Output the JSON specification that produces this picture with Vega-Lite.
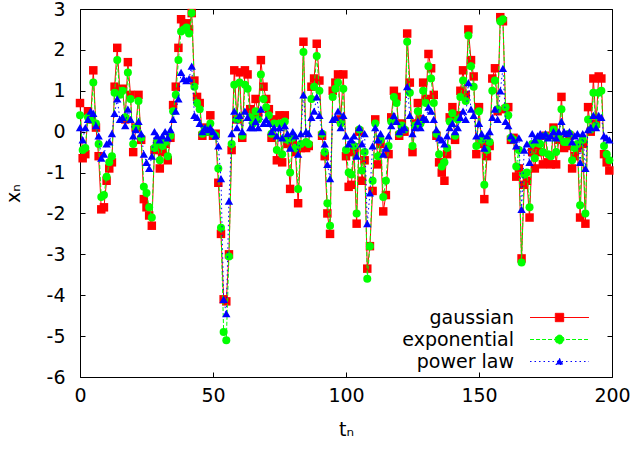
{
  "$schema": "https://vega.github.io/schema/vega-lite/v6.json",
  "width": 532,
  "height": 368,
  "autosize": {"type": "none"},
  "padding": {"left": 80, "top": 9, "right": 22, "bottom": 74},
  "background": "white",
  "config": {
    "view": {"stroke": "black", "strokeWidth": 1},
    "font": "DejaVu Sans",
    "axis": {"labelFont": "DejaVu Sans", "labelFontSize": 19, "labelColor": "black", "titleFont": "DejaVu Sans", "titleFontSize": 19, "titleFontWeight": "normal", "titleColor": "black", "tickColor": "black", "tickSize": -5, "domain": false, "grid": false, "labelFlush": false, "labelOverlap": false, "labelExpr": "datum.value + ''"}
  },
  "data": {"values": [
    {"t":0,"gaussian":0.7,"exponential":0.4,"power law":0.1},
    {"t":1,"gaussian":-0.65,"exponential":-0.45,"power law":-0.2},
    {"t":2,"gaussian":-0.55,"exponential":-0.4,"power law":0.1},
    {"t":3,"gaussian":0.5,"exponential":0.35,"power law":0.3},
    {"t":4,"gaussian":0.3,"exponential":0.3,"power law":0.5},
    {"t":5,"gaussian":1.5,"exponential":1.2,"power law":0.45},
    {"t":6,"gaussian":0.1,"exponential":0.2,"power law":0.15},
    {"t":7,"gaussian":-0.6,"exponential":-0.3,"power law":-0.1},
    {"t":8,"gaussian":-1.9,"exponential":-1.6,"power law":-0.65},
    {"t":9,"gaussian":-1.85,"exponential":-1.55,"power law":-0.55},
    {"t":10,"gaussian":-1.2,"exponential":-1.1,"power law":-0.3},
    {"t":11,"gaussian":-0.9,"exponential":-0.75,"power law":-0.25},
    {"t":12,"gaussian":-0.75,"exponential":-0.6,"power law":-0.05},
    {"t":13,"gaussian":1.1,"exponential":0.95,"power law":0.45},
    {"t":14,"gaussian":2.05,"exponential":1.75,"power law":0.8},
    {"t":15,"gaussian":1.0,"exponential":0.9,"power law":0.3},
    {"t":16,"gaussian":1.05,"exponential":1.0,"power law":0.35},
    {"t":17,"gaussian":0.3,"exponential":0.35,"power law":0.15},
    {"t":18,"gaussian":1.7,"exponential":1.45,"power law":0.55},
    {"t":19,"gaussian":0.9,"exponential":0.8,"power law":0.3},
    {"t":20,"gaussian":-0.5,"exponential":-0.3,"power law":-0.1},
    {"t":21,"gaussian":0.1,"exponential":0.1,"power law":0.05},
    {"t":22,"gaussian":0.9,"exponential":0.75,"power law":0.25},
    {"t":23,"gaussian":-0.2,"exponential":-0.15,"power law":-0.05},
    {"t":24,"gaussian":-1.65,"exponential":-1.35,"power law":-0.55},
    {"t":25,"gaussian":-1.85,"exponential":-1.5,"power law":-0.75},
    {"t":26,"gaussian":-2.05,"exponential":-1.85,"power law":-0.9},
    {"t":27,"gaussian":-2.3,"exponential":-2.1,"power law":-0.6},
    {"t":28,"gaussian":-0.45,"exponential":-0.4,"power law":0},
    {"t":29,"gaussian":-0.3,"exponential":-0.25,"power law":-0.1},
    {"t":30,"gaussian":-0.9,"exponential":-0.7,"power law":-0.2},
    {"t":31,"gaussian":-0.5,"exponential":-0.35,"power law":-0.1},
    {"t":32,"gaussian":-0.3,"exponential":-0.25,"power law":0},
    {"t":33,"gaussian":-0.7,"exponential":-0.6,"power law":-0.15},
    {"t":34,"gaussian":-0.15,"exponential":-0.1,"power law":0.05},
    {"t":35,"gaussian":0.65,"exponential":0.5,"power law":0.3},
    {"t":36,"gaussian":1.1,"exponential":0.9,"power law":0.5},
    {"t":37,"gaussian":2.05,"exponential":1.75,"power law":0.8},
    {"t":38,"gaussian":2.75,"exponential":2.45,"power law":1.45},
    {"t":39,"gaussian":2.6,"exponential":2.5,"power law":1.3},
    {"t":40,"gaussian":2.65,"exponential":2.55,"power law":1.25},
    {"t":41,"gaussian":2.5,"exponential":2.4,"power law":1.3},
    {"t":42,"gaussian":2.9,"exponential":2.9,"power law":1.6},
    {"t":43,"gaussian":1.25,"exponential":1.1,"power law":0.4},
    {"t":44,"gaussian":0.85,"exponential":0.7,"power law":0.35},
    {"t":45,"gaussian":0.7,"exponential":0.55,"power law":0.2},
    {"t":46,"gaussian":-0.1,"exponential":-0.05,"power law":0},
    {"t":47,"gaussian":0.1,"exponential":0.05,"power law":0.1},
    {"t":48,"gaussian":0,"exponential":0,"power law":0.05},
    {"t":49,"gaussian":0.4,"exponential":0.2,"power law":0.1},
    {"t":50,"gaussian":-0.1,"exponential":-0.05,"power law":0},
    {"t":51,"gaussian":-0.05,"exponential":-0.1,"power law":-0.1},
    {"t":52,"gaussian":-1.25,"exponential":-0.9,"power law":-0.35},
    {"t":53,"gaussian":-2.5,"exponential":-2.35,"power law":-1.15},
    {"t":54,"gaussian":-4.1,"exponential":-4.9,"power law":-4.1},
    {"t":55,"gaussian":-4.15,"exponential":-5.1,"power law":-4.45},
    {"t":56,"gaussian":-3.0,"exponential":-3.05,"power law":-1.7},
    {"t":57,"gaussian":-0.45,"exponential":-0.3,"power law":-0.05},
    {"t":58,"gaussian":1.5,"exponential":1.15,"power law":0.5},
    {"t":59,"gaussian":0.3,"exponential":0.3,"power law":0.1},
    {"t":60,"gaussian":1.45,"exponential":1.2,"power law":0.4},
    {"t":61,"gaussian":-0.15,"exponential":-0.1,"power law":0},
    {"t":62,"gaussian":1.5,"exponential":1.15,"power law":0.5},
    {"t":63,"gaussian":1.4,"exponential":1.05,"power law":0.35},
    {"t":64,"gaussian":0.55,"exponential":0.35,"power law":0.1},
    {"t":65,"gaussian":0.4,"exponential":0.2,"power law":0.1},
    {"t":66,"gaussian":0.8,"exponential":0.5,"power law":0.25},
    {"t":67,"gaussian":0.45,"exponential":0.3,"power law":0.1},
    {"t":68,"gaussian":1.75,"exponential":1.4,"power law":0.55},
    {"t":69,"gaussian":1.1,"exponential":0.8,"power law":0.2},
    {"t":70,"gaussian":0.8,"exponential":0.6,"power law":0.3},
    {"t":71,"gaussian":0.55,"exponential":0.4,"power law":0.2},
    {"t":72,"gaussian":-0.15,"exponential":-0.05,"power law":0},
    {"t":73,"gaussian":0.3,"exponential":0.2,"power law":0.1},
    {"t":74,"gaussian":-0.7,"exponential":-0.45,"power law":-0.1},
    {"t":75,"gaussian":0.4,"exponential":0.2,"power law":0.1},
    {"t":76,"gaussian":-0.75,"exponential":-0.55,"power law":-0.15},
    {"t":77,"gaussian":0.4,"exponential":0.25,"power law":0.15},
    {"t":78,"gaussian":-0.3,"exponential":-0.2,"power law":-0.05},
    {"t":79,"gaussian":-1.4,"exponential":-1.0,"power law":-0.4},
    {"t":80,"gaussian":-0.2,"exponential":-0.15,"power law":0},
    {"t":81,"gaussian":-0.5,"exponential":-0.4,"power law":-0.1},
    {"t":82,"gaussian":-1.75,"exponential":-1.4,"power law":-0.55},
    {"t":83,"gaussian":-0.4,"exponential":-0.3,"power law":-0.05},
    {"t":84,"gaussian":2.2,"exponential":1.95,"power law":0.9},
    {"t":85,"gaussian":-0.4,"exponential":-0.25,"power law":0},
    {"t":86,"gaussian":-0.35,"exponential":-0.3,"power law":-0.05},
    {"t":87,"gaussian":1.1,"exponential":0.8,"power law":0.35},
    {"t":88,"gaussian":1.3,"exponential":1.1,"power law":0.5},
    {"t":89,"gaussian":2.15,"exponential":1.85,"power law":0.85},
    {"t":90,"gaussian":1.25,"exponential":1.0,"power law":0.4},
    {"t":91,"gaussian":-0.1,"exponential":-0.05,"power law":0},
    {"t":92,"gaussian":-0.6,"exponential":-0.5,"power law":-0.3},
    {"t":93,"gaussian":-2.0,"exponential":-1.75,"power law":-0.8},
    {"t":94,"gaussian":-2.5,"exponential":-2.3,"power law":-1.15},
    {"t":95,"gaussian":1.0,"exponential":0.85,"power law":0.3},
    {"t":96,"gaussian":1.2,"exponential":1.05,"power law":0.35},
    {"t":97,"gaussian":1.4,"exponential":1.2,"power law":0.5},
    {"t":98,"gaussian":0.3,"exponential":0.2,"power law":0.1},
    {"t":99,"gaussian":1.4,"exponential":1.05,"power law":0.4},
    {"t":100,"gaussian":-0.6,"exponential":-0.45,"power law":-0.1},
    {"t":101,"gaussian":-1.35,"exponential":-1.0,"power law":-0.3},
    {"t":102,"gaussian":-1.3,"exponential":-1.05,"power law":-0.2},
    {"t":103,"gaussian":-0.5,"exponential":-0.35,"power law":-0.1},
    {"t":104,"gaussian":-2.25,"exponential":-2.0,"power law":-0.6},
    {"t":105,"gaussian":0,"exponential":0.05,"power law":0.1},
    {"t":106,"gaussian":-1.2,"exponential":-0.95,"power law":-0.3},
    {"t":107,"gaussian":-0.7,"exponential":-0.5,"power law":-0.05},
    {"t":108,"gaussian":-3.35,"exponential":-3.6,"power law":-2.25},
    {"t":109,"gaussian":-2.8,"exponential":-2.8,"power law":-1.5},
    {"t":110,"gaussian":-1.45,"exponential":-1.2,"power law":-0.35},
    {"t":111,"gaussian":0.3,"exponential":0.2,"power law":0.1},
    {"t":112,"gaussian":-0.8,"exponential":-0.6,"power law":-0.2},
    {"t":113,"gaussian":-0.3,"exponential":-0.2,"power law":-0.05},
    {"t":114,"gaussian":-1.95,"exponential":-1.6,"power law":-0.55},
    {"t":115,"gaussian":-1.55,"exponential":-1.2,"power law":-0.4},
    {"t":116,"gaussian":-0.55,"exponential":-0.35,"power law":-0.1},
    {"t":117,"gaussian":0.35,"exponential":0.25,"power law":0.15},
    {"t":118,"gaussian":1.0,"exponential":0.85,"power law":0.4},
    {"t":119,"gaussian":0.85,"exponential":0.7,"power law":0.25},
    {"t":120,"gaussian":-0.1,"exponential":-0.05,"power law":0},
    {"t":121,"gaussian":0.2,"exponential":0.15,"power law":0.05},
    {"t":122,"gaussian":0,"exponential":0.05,"power law":0.1},
    {"t":123,"gaussian":2.4,"exponential":2.2,"power law":1.1},
    {"t":124,"gaussian":1.2,"exponential":0.95,"power law":0.4},
    {"t":125,"gaussian":-0.5,"exponential":-0.35,"power law":-0.05},
    {"t":126,"gaussian":0.2,"exponential":0.15,"power law":0.1},
    {"t":127,"gaussian":0.7,"exponential":0.5,"power law":0.25},
    {"t":128,"gaussian":0.3,"exponential":0.2,"power law":0.1},
    {"t":129,"gaussian":1.2,"exponential":1.0,"power law":0.35},
    {"t":130,"gaussian":0.8,"exponential":0.7,"power law":0.3},
    {"t":131,"gaussian":1.9,"exponential":1.6,"power law":0.6},
    {"t":132,"gaussian":1.55,"exponential":1.3,"power law":0.5},
    {"t":133,"gaussian":0.9,"exponential":0.7,"power law":0.3},
    {"t":134,"gaussian":-0.1,"exponential":-0.05,"power law":0.05},
    {"t":135,"gaussian":-0.75,"exponential":-0.55,"power law":-0.15},
    {"t":136,"gaussian":-1.0,"exponential":-0.85,"power law":-0.2},
    {"t":137,"gaussian":-1.2,"exponential":-0.75,"power law":-0.3},
    {"t":138,"gaussian":-0.55,"exponential":-0.4,"power law":-0.1},
    {"t":139,"gaussian":0.35,"exponential":0.25,"power law":0.1},
    {"t":140,"gaussian":0.6,"exponential":0.45,"power law":0.2},
    {"t":141,"gaussian":-0.2,"exponential":-0.1,"power law":0},
    {"t":142,"gaussian":0.4,"exponential":0.3,"power law":0.1},
    {"t":143,"gaussian":1.0,"exponential":0.85,"power law":0.35},
    {"t":144,"gaussian":1.5,"exponential":1.25,"power law":0.5},
    {"t":145,"gaussian":0.9,"exponential":0.75,"power law":0.3},
    {"t":146,"gaussian":2.5,"exponential":2.35,"power law":1.2},
    {"t":147,"gaussian":1.75,"exponential":1.6,"power law":0.55},
    {"t":148,"gaussian":1.35,"exponential":1.1,"power law":0.4},
    {"t":149,"gaussian":-0.55,"exponential":-0.35,"power law":-0.1},
    {"t":150,"gaussian":0.6,"exponential":0.5,"power law":0.2},
    {"t":151,"gaussian":-0.3,"exponential":-0.2,"power law":-0.05},
    {"t":152,"gaussian":-1.65,"exponential":-1.3,"power law":-0.4},
    {"t":153,"gaussian":-0.6,"exponential":-0.45,"power law":-0.1},
    {"t":154,"gaussian":-0.35,"exponential":-0.25,"power law":0},
    {"t":155,"gaussian":1.3,"exponential":1.0,"power law":0.35},
    {"t":156,"gaussian":1.55,"exponential":1.25,"power law":0.55},
    {"t":157,"gaussian":0.5,"exponential":0.55,"power law":0.3},
    {"t":158,"gaussian":2.8,"exponential":2.7,"power law":1.0},
    {"t":159,"gaussian":2.7,"exponential":2.75,"power law":1.55},
    {"t":160,"gaussian":0.55,"exponential":0.6,"power law":0.25},
    {"t":161,"gaussian":0.6,"exponential":0.4,"power law":0.15},
    {"t":162,"gaussian":-0.2,"exponential":-0.15,"power law":-0.1},
    {"t":163,"gaussian":-0.15,"exponential":-0.2,"power law":-0.2},
    {"t":164,"gaussian":-1.1,"exponential":-0.85,"power law":-0.35},
    {"t":165,"gaussian":-0.9,"exponential":-0.45,"power law":-0.15},
    {"t":166,"gaussian":-3.1,"exponential":-3.2,"power law":-1.9},
    {"t":167,"gaussian":-1.3,"exponential":-1.05,"power law":-0.45},
    {"t":168,"gaussian":-1.2,"exponential":-1.0,"power law":-0.3},
    {"t":169,"gaussian":-2.1,"exponential":-1.85,"power law":-0.75},
    {"t":170,"gaussian":-0.5,"exponential":-0.3,"power law":-0.05},
    {"t":171,"gaussian":-0.9,"exponential":-0.65,"power law":-0.2},
    {"t":172,"gaussian":-0.3,"exponential":-0.2,"power law":-0.1},
    {"t":173,"gaussian":-0.5,"exponential":-0.3,"power law":-0.05},
    {"t":174,"gaussian":-0.8,"exponential":-0.5,"power law":-0.1},
    {"t":175,"gaussian":-0.1,"exponential":-0.1,"power law":-0.05},
    {"t":176,"gaussian":-0.75,"exponential":-0.55,"power law":-0.15},
    {"t":177,"gaussian":-0.8,"exponential":-0.6,"power law":-0.1},
    {"t":178,"gaussian":0.1,"exponential":0.05,"power law":0},
    {"t":179,"gaussian":-0.8,"exponential":-0.5,"power law":-0.15},
    {"t":180,"gaussian":-0.2,"exponential":-0.15,"power law":0},
    {"t":181,"gaussian":0.85,"exponential":0.55,"power law":0.25},
    {"t":182,"gaussian":-0.4,"exponential":-0.25,"power law":0},
    {"t":183,"gaussian":-0.35,"exponential":-0.25,"power law":-0.05},
    {"t":184,"gaussian":-0.1,"exponential":-0.05,"power law":0},
    {"t":185,"gaussian":-0.9,"exponential":-0.7,"power law":-0.25},
    {"t":186,"gaussian":-0.6,"exponential":-0.4,"power law":-0.1},
    {"t":187,"gaussian":-0.4,"exponential":-0.3,"power law":-0.05},
    {"t":188,"gaussian":-2.1,"exponential":-1.8,"power law":-0.75},
    {"t":189,"gaussian":-0.3,"exponential":-0.2,"power law":-0.05},
    {"t":190,"gaussian":-2.25,"exponential":-2.0,"power law":-0.9},
    {"t":191,"gaussian":0.6,"exponential":0.3,"power law":0.05},
    {"t":192,"gaussian":0,"exponential":0.05,"power law":0.1},
    {"t":193,"gaussian":1.3,"exponential":0.95,"power law":0.4},
    {"t":194,"gaussian":0.2,"exponential":0.15,"power law":0.1},
    {"t":195,"gaussian":1.35,"exponential":0.95,"power law":0.4},
    {"t":196,"gaussian":1.3,"exponential":1.0,"power law":0.35},
    {"t":197,"gaussian":-0.55,"exponential":-0.35,"power law":-0.1},
    {"t":198,"gaussian":-0.75,"exponential":-0.55,"power law":-0.15},
    {"t":199,"gaussian":-0.95,"exponential":-0.7,"power law":-0.2}
  ]},
  "layer": [
    {
      "mark": {"type": "line", "color": "#ff0000", "strokeWidth": 1},
      "encoding": {
        "x": {"field": "t", "type": "quantitative", "scale": {"domain": [0, 200], "nice": false, "zero": false, "padding": 0},
              "axis": {"orient": "bottom", "values": [0, 50, 100, 150, 200], "title": "tₙ", "labelPadding": 14, "titlePadding": 15}},
        "y": {"field": "gaussian", "type": "quantitative", "scale": {"domain": [-6, 3], "nice": false, "zero": false, "padding": 0},
              "axis": {"orient": "left", "values": [-6, -5, -4, -3, -2, -1, 0, 1, 2, 3], "title": "xₙ", "labelPadding": 20, "titlePadding": 23}}
      }
    },
    {
      "mark": {"type": "point", "shape": "square", "filled": true, "color": "#ff0000", "size": 72, "opacity": 1},
      "encoding": {
        "x": {"field": "t", "type": "quantitative", "axis": null},
        "y": {"field": "gaussian", "type": "quantitative", "axis": null}
      }
    },
    {
      "mark": {"type": "line", "color": "#00ff00", "strokeWidth": 1, "strokeDash": [4, 2]},
      "encoding": {
        "x": {"field": "t", "type": "quantitative", "axis": null},
        "y": {"field": "exponential", "type": "quantitative", "axis": null}
      }
    },
    {
      "mark": {"type": "point", "shape": "circle", "filled": true, "color": "#00ff00", "size": 64, "opacity": 1},
      "encoding": {
        "x": {"field": "t", "type": "quantitative", "axis": null},
        "y": {"field": "exponential", "type": "quantitative", "axis": null}
      }
    },
    {
      "mark": {"type": "line", "color": "#0000ff", "strokeWidth": 1, "strokeDash": [1.5, 3]},
      "encoding": {
        "x": {"field": "t", "type": "quantitative", "axis": null},
        "y": {"field": "power law", "type": "quantitative", "axis": null}
      }
    },
    {
      "mark": {"type": "point", "shape": "triangle-up", "filled": true, "color": "#0000ff", "size": 70, "opacity": 1},
      "encoding": {
        "x": {"field": "t", "type": "quantitative", "axis": null},
        "y": {"field": "power law", "type": "quantitative", "axis": null}
      }
    },
    {
      "mark": {"type": "point", "opacity": 0},
      "encoding": {
        "x": {"field": "t", "type": "quantitative",
              "axis": {"orient": "top", "values": [0, 50, 100, 150, 200], "labels": false, "title": null}},
        "y": {"field": "gaussian", "type": "quantitative",
              "axis": {"orient": "right", "values": [-6, -5, -4, -3, -2, -1, 0, 1, 2, 3], "labels": false, "title": null}}
      }
    },
    {
      "transform": [{"fold": ["gaussian", "exponential", "power law"], "as": ["series", "v"]}],
      "mark": {"type": "point", "opacity": 0, "filled": true, "strokeWidth": 1},
      "encoding": {
        "x": {"field": "t", "type": "quantitative", "axis": null},
        "y": {"field": "v", "type": "quantitative", "axis": null},
        "fill": {"field": "series", "type": "nominal",
                  "scale": {"domain": ["gaussian", "exponential", "power law"], "range": ["#ff0000", "#00ff00", "#0000ff"]},
                  "legend": {"title": null, "orient": "none", "legendX": 468, "legendY": 297, "padding": 0, "rowPadding": 0,
                             "symbolSize": 484, "labelFont": "DejaVu Sans", "labelFontSize": 19, "labelColor": "black",
                             "labelAlign": "right", "labelOffset": -57, "labelLimit": 0, "symbolStrokeWidth": 1, "symbolOpacity": 1,
                             "encode": {"symbols": {"update": {
                               "fill": {"signal": "datum.value === 'gaussian' ? '#ff0000' : datum.value === 'exponential' ? '#00ff00' : '#0000ff'"},
                               "stroke": {"signal": "datum.value === 'gaussian' ? '#ff0000' : datum.value === 'exponential' ? '#00ff00' : '#0000ff'"},
                               "fillOpacity": {"value": 1},
                               "strokeOpacity": {"value": 1}
                             }}}}},
        "stroke": {"field": "series", "type": "nominal",
                  "scale": {"domain": ["gaussian", "exponential", "power law"], "range": ["#ff0000", "#00ff00", "#0000ff"]}},
        "shape": {"field": "series", "type": "nominal",
                  "scale": {"domain": ["gaussian", "exponential", "power law"],
                            "range": ["M-2.68,0H2.68M-0.38,-0.38H0.38V0.38H-0.38Z", "M-2.68,0H2.68M-0.4,0A0.4,0.4,0,1,0,0.4,0A0.4,0.4,0,1,0,-0.4,0Z", "M-2.68,0H2.68M0,-0.3L0.33,0.27H-0.33Z"]}},
        "strokeDash": {"field": "series", "type": "nominal",
                       "scale": {"domain": ["gaussian", "exponential", "power law"], "range": [[1, 0], [4, 2], [1.5, 3]]}}
      }
    }
  ],
  "resolve": {"axis": {"x": "independent", "y": "independent"}}
}
